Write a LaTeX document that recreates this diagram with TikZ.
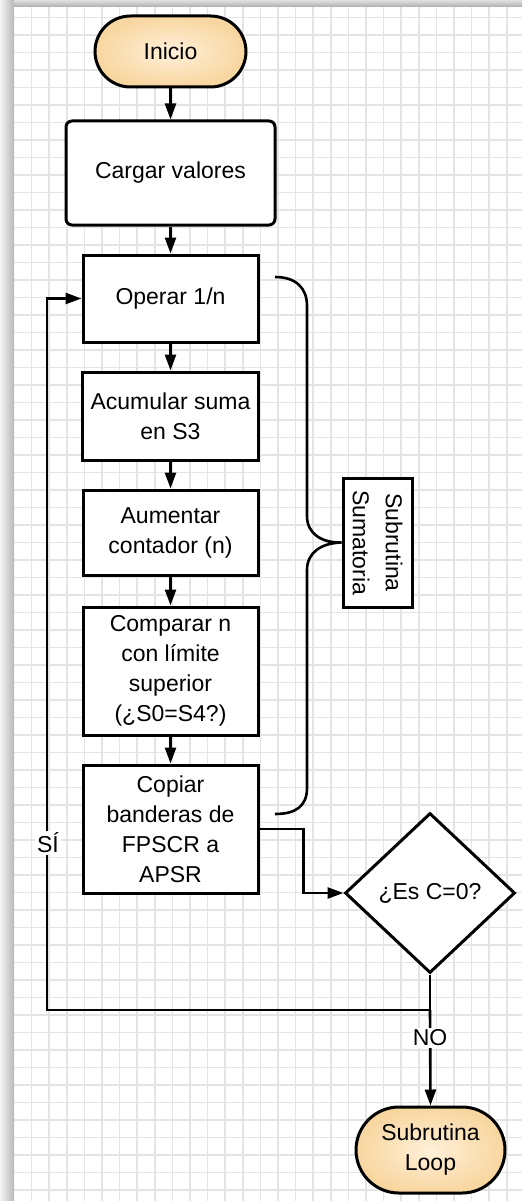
\documentclass[tikz,border=0pt]{standalone}
\usepackage{fontspec}
\setmainfont{Liberation Sans}
\usetikzlibrary{arrows.meta,shapes.geometric,shapes.misc}
\definecolor{gridc}{HTML}{E4E4E4}
\definecolor{termin}{HTML}{FFF0D9}
\definecolor{termout}{HTML}{F8D6A0}
\begin{document}
\begin{tikzpicture}[x=1pt,y=-1pt,
  font=\fontsize{23}{30}\selectfont,
  box/.style={draw, rectangle, line width=3pt, fill=white, align=center, inner sep=2pt},
  term/.style={draw, rounded rectangle, line width=3pt, inner color=termin, outer color=termout, align=center, inner sep=2pt},
  conn/.style={line width=2.6pt},
  arr/.style={line width=2.6pt, -{Triangle[length=16pt,width=11pt]}},
  lbl/.style={fill=white, inner sep=2pt}]
\useasboundingbox (0,0) rectangle (522,1201);
% background and frame shadow
\fill[white] (0,0) rectangle (522,1201);
\shade[left color=black!4, right color=black!28] (0,0) rectangle (14,1201);
\shade[top color=black!12, bottom color=black!32] (14,0) rectangle (522,7);
% grid
\foreach \i in {1,...,29} \draw[gridc, line width=1.5pt] ({14+17.6*\i},7) -- ({14+17.6*\i},1201);
\foreach \j in {0,...,67} \draw[gridc, line width=1.5pt] (14,{17.5+17.5*\j}) -- (522,{17.5+17.5*\j});
% nodes
\node[term, minimum width=155pt, minimum height=71pt] (ini) at (170.5,51.5) {Inicio};
\node[box, rounded corners=6pt, minimum width=209pt, minimum height=104pt] (car) at (170.5,173) {Cargar valores};
\node[box, minimum width=175pt, minimum height=87pt] (op) at (170.5,298.5) {Operar 1/n};
\node[box, minimum width=176pt, minimum height=88pt] (acu) at (170.5,416) {Acumular suma\\en S3};
\node[box, minimum width=175pt, minimum height=85pt] (aum) at (170.5,532.5) {Aumentar\\contador (n)};
\node[box, minimum width=175pt, minimum height=128pt] (com) at (170.5,671) {Comparar n\\con límite\\superior\\(¿S0=S4?)};
\node[box, minimum width=175pt, minimum height=128pt] (cop) at (170.5,829) {Copiar\\banderas de\\FPSCR a\\APSR};
\node[draw, diamond, line width=3pt, fill=white, inner sep=0pt, minimum width=170pt, minimum height=160pt] (dec) at (430,893) {¿Es C=0?};
\node[box, rotate=-90, minimum width=129pt, minimum height=69pt, font=\fontsize{23}{33}\selectfont] (sum) at (377.5,542.5) {Subrutina\\Sumatoria};
\node[term, minimum width=153pt, minimum height=86pt] (loop) at (430.5,1150) {Subrutina\\Loop};
% connectors
\draw[arr] (ini) -- (car);
\draw[arr] (car) -- (op);
\draw[arr] (op) -- (acu);
\draw[arr] (acu) -- (aum);
\draw[arr] (aum) -- (com);
\draw[arr] (com) -- (cop);
\draw[arr] (cop.east) -- ++(44,0) |- (dec.west);
\coordinate (jn) at (430,1010);
\coordinate (lb) at (47,1010);
\draw[arr] (dec.south) -- (jn) -- (lb) |- (op.west);
\draw[arr] (jn) -- (loop.north);
\node[lbl] (si) at (48,843) {SÍ};
\node[lbl] (no) at (430,1038) {NO};
% brace
\draw[conn] (275,277) .. controls (296,277) and (307,288) .. (307,306)
  -- (307,516) .. controls (307,534) and (322,543) .. (sum.south)
  .. controls (322,543) and (307,552) .. (307,570)
  -- (307,788) .. controls (307,806) and (296,814) .. (275,814);
\end{tikzpicture}
\end{document}
